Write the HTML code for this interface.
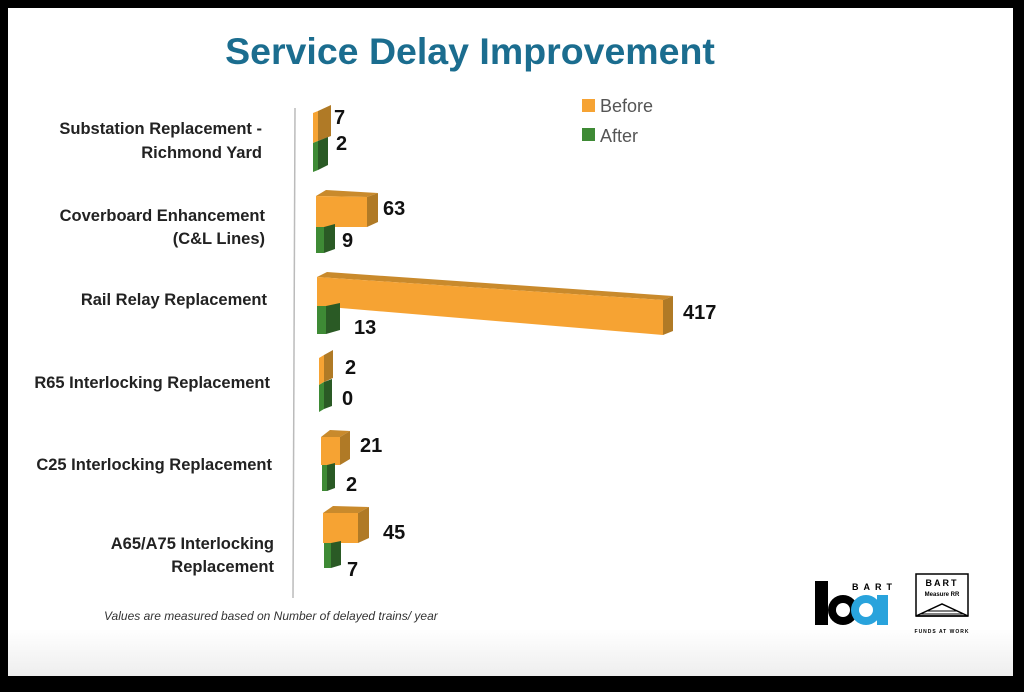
<!DOCTYPE html>
<html><head><meta charset="utf-8"><style>
html,body{margin:0;padding:0;background:#000;}
svg{display:block;}
text{font-family:"Liberation Sans","DejaVu Sans",sans-serif;}
</style></head><body>
<svg width="1024" height="692" viewBox="0 0 1024 692" xmlns="http://www.w3.org/2000/svg">
<defs>
<linearGradient id="bg" x1="0" y1="0" x2="0" y2="1">
<stop offset="0.93" stop-color="#ffffff"/><stop offset="1" stop-color="#eeeeee"/>
</linearGradient>
</defs>
<rect x="0" y="0" width="1024" height="692" fill="#000"/>
<rect x="8" y="8" width="1005" height="668" fill="url(#bg)"/>
<text x="470" y="64" text-anchor="middle" font-size="37.5" font-weight="bold" fill="#1b6d8f">Service Delay Improvement</text>
<line x1="295" y1="108" x2="293" y2="598" stroke="#bbb" stroke-width="1.5"/>
<g font-size="16.5" font-weight="bold" fill="#222" text-anchor="end">
<text x="262" y="134">Substation Replacement -</text>
<text x="262" y="158">Richmond Yard</text>
<text x="265" y="221">Coverboard Enhancement</text>
<text x="265" y="244">(C&amp;L Lines)</text>
<text x="267" y="305">Rail Relay Replacement</text>
<text x="270" y="388">R65 Interlocking Replacement</text>
<text x="272" y="470">C25 Interlocking Replacement</text>
<text x="274" y="549">A65/A75 Interlocking</text>
<text x="274" y="572">Replacement</text>
</g>
<rect x="582" y="99" width="13" height="13" fill="#f6a333"/>
<rect x="582" y="128" width="13" height="13" fill="#3e8a35"/>
<text x="600" y="112" font-size="18" fill="#555">Before</text>
<text x="600" y="142" font-size="18" fill="#555">After</text>
<polygon points="313,113 318,111 318,141 313,143" fill="#f6a333"/>
<polygon points="318,111 331,105 331,136 318,141" fill="#b07a26"/>
<polygon points="313,143 318,141 318,170 313,172" fill="#3e8a35"/>
<polygon points="318,141 328,137 328,165 318,170" fill="#2a5a25"/>
<polygon points="316,196 326,190 378,193 367,197" fill="#c98a2c"/>
<polygon points="316,196 367,197 367,227 316,227" fill="#f6a333"/>
<polygon points="367,197 378,193 378,222 367,227" fill="#b07a26"/>
<polygon points="316,227 324,227 324,253 316,253" fill="#3e8a35"/>
<polygon points="324,227 335,224 335,249 324,253" fill="#2a5a25"/>
<polygon points="317,277 327,272 673,296 663,300" fill="#c98a2c"/>
<polygon points="317,277 663,300 663,335 317,306" fill="#f6a333"/>
<polygon points="663,300 673,296 673,331 663,335" fill="#b07a26"/>
<polygon points="317,306 326,306 326,334 317,334" fill="#3e8a35"/>
<polygon points="326,306 340,303 340,330 326,334" fill="#2a5a25"/>
<polygon points="319,358 324,355 324,382 319,385" fill="#f6a333"/>
<polygon points="324,355 333,350 333,378 324,382" fill="#b07a26"/>
<polygon points="319,385 324,382 324,409 319,412" fill="#3e8a35"/>
<polygon points="324,382 332,379 332,406 324,409" fill="#2a5a25"/>
<polygon points="321,437 330,430 350,431 340,437" fill="#c98a2c"/>
<polygon points="321,437 340,437 340,465 321,465" fill="#f6a333"/>
<polygon points="340,437 350,431 350,459 340,465" fill="#b07a26"/>
<polygon points="322,465 327,465 327,491 322,491" fill="#3e8a35"/>
<polygon points="327,465 335,463 335,488 327,491" fill="#2a5a25"/>
<polygon points="323,513 333,506 369,507 358,513" fill="#c98a2c"/>
<polygon points="323,513 358,513 358,543 323,543" fill="#f6a333"/>
<polygon points="358,513 369,507 369,538 358,543" fill="#b07a26"/>
<polygon points="324,543 331,543 331,568 324,568" fill="#3e8a35"/>
<polygon points="331,543 341,541 341,565 331,568" fill="#2a5a25"/>
<g font-size="20" font-weight="bold" fill="#111">
<text x="334" y="124">7</text>
<text x="336" y="150">2</text>
<text x="383" y="215">63</text>
<text x="342" y="247">9</text>
<text x="683" y="319">417</text>
<text x="354" y="334">13</text>
<text x="345" y="374">2</text>
<text x="342" y="405">0</text>
<text x="360" y="452">21</text>
<text x="346" y="491">2</text>
<text x="383" y="539">45</text>
<text x="347" y="576">7</text>
</g>
<text x="104" y="620" font-size="12" font-style="italic" fill="#333">Values are measured based on Number of delayed trains/ year</text>
<g>
<text x="852" y="590" font-size="9" font-weight="bold" fill="#000" letter-spacing="5">BART</text>
<rect x="815" y="581" width="13" height="44" fill="#000"/>
<circle cx="843" cy="610" r="15" fill="#000"/>
<circle cx="843" cy="610" r="7" fill="#fff"/>
<circle cx="866" cy="610" r="15" fill="#29a3dc"/>
<circle cx="866" cy="610" r="7" fill="#fff"/>
<rect x="877" y="595" width="11" height="30" fill="#29a3dc"/>
</g>
<g>
<rect x="916" y="574" width="52" height="42" fill="none" stroke="#000" stroke-width="1.5"/>
<text x="942" y="586" font-size="9" font-weight="bold" text-anchor="middle" letter-spacing="2">BART</text>
<text x="942" y="596" font-size="6" font-weight="bold" text-anchor="middle">Measure RR</text>
<polygon points="916,616 942,604 968,616" fill="none" stroke="#000" stroke-width="1.5"/>
<line x1="926" y1="611" x2="958" y2="611" stroke="#000"/>
<line x1="921" y1="614" x2="963" y2="614" stroke="#000"/>
<text x="942" y="633" font-size="5" font-weight="bold" text-anchor="middle" letter-spacing="1">FUNDS AT WORK</text>
</g>
</svg>
</body></html>
